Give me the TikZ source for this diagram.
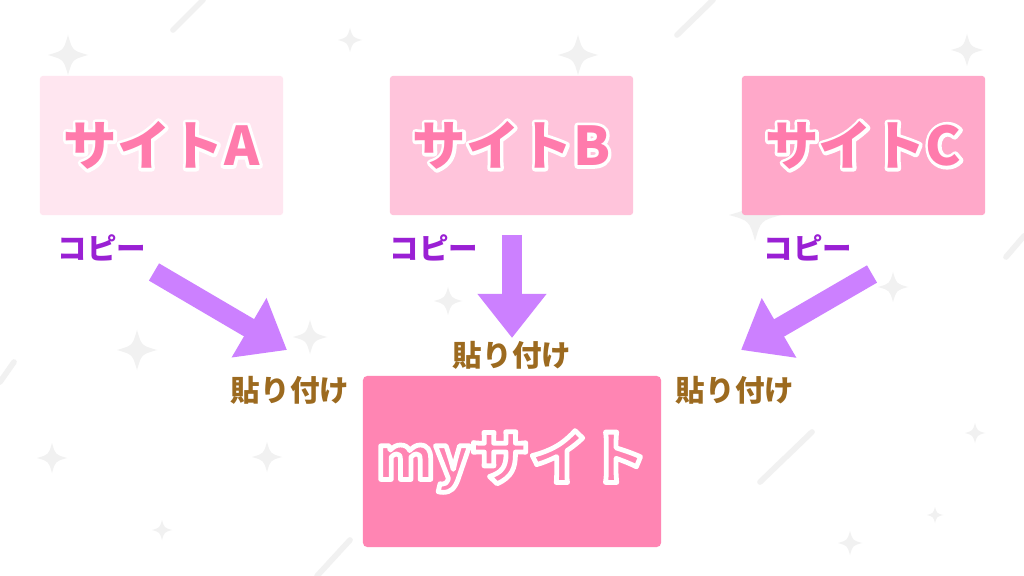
\documentclass[tikz,border=0pt]{standalone}
\usepackage{fontspec}
\usepackage{xcolor}
\usepackage{tikz}
\usetikzlibrary{arrows.meta,positioning}
\newfontfamily\jpfont{Noto Sans CJK JP}

\definecolor{boxA}{HTML}{FFE6F0}
\definecolor{boxB}{HTML}{FFC4DB}
\definecolor{boxC}{HTML}{FFA8C9}
\definecolor{boxMy}{HTML}{FF85B3}
\definecolor{sitetext}{HTML}{FF7BAC}
\definecolor{copycol}{HTML}{9A20D4}
\definecolor{pastecol}{HTML}{9C6A1F}
\definecolor{arrowcol}{HTML}{CC80FF}
\definecolor{sparklecol}{HTML}{F1F1F1}

\tikzset{
  sitebox/.style={rectangle, rounded corners=2pt, inner sep=0pt,
    minimum width=6.075cm, minimum height=3.475cm},
  mybox/.style={rectangle, rounded corners=3pt, inner sep=0pt, fill=boxMy,
    minimum width=7.45cm, minimum height=4.275cm},
  sitelabel/.style={text=sitetext, font=\jpfont\bfseries\fontsize{38}{38}\selectfont},
  mylabel/.style={text=white, font=\jpfont\bfseries\fontsize{42}{42}\selectfont},
  copylabel/.style={text=copycol, font=\jpfont\bfseries\fontsize{21}{21}\selectfont},
  pastelabel/.style={text=pastecol, font=\jpfont\bfseries\fontsize{21}{21}\selectfont},
  fat arrow/.style={draw=arrowcol, line width=0.5cm,
    -{Triangle[width=1.65cm,length=1.1cm]}},
  sparkle/.style={fill=sparklecol},
  sparkle line/.style={draw=sparklecol, line width=4pt, line cap=round}
}

% white stroked text (render mode 1) to sit under the filled text
\newcommand{\outlined}[2]{\special{pdf:literal direct 1 Tr 1 j #1 w 1 1 1 RG}#2\special{pdf:literal direct 0 Tr 0 j 0.4 w}}

\begin{document}
\begin{tikzpicture}[x=0.025cm, y=-0.025cm]
\useasboundingbox[fill=white] (0,0) rectangle (1024,576);

% background sparkles
\foreach \sx/\sy/\sr in {68/55/20, 350/40/12, 578/55/20, 967/50/16, 755/215/26,
    137/350/20, 310/337/17, 448/301/14, 893/287/15, 52/458/15, 267/457/15,
    162/530/10, 975/433/10, 935/515/8, 850/543/12}
  \fill[sparkle] (\sx,\sy-\sr) .. controls (\sx+0.22*\sr,\sy-0.22*\sr) .. (\sx+\sr,\sy)
    .. controls (\sx+0.22*\sr,\sy+0.22*\sr) .. (\sx,\sy+\sr)
    .. controls (\sx-0.22*\sr,\sy+0.22*\sr) .. (\sx-\sr,\sy)
    .. controls (\sx-0.22*\sr,\sy-0.22*\sr) .. cycle;
\draw[sparkle line] (173,30) -- (203,0);
\draw[sparkle line] (677,35) -- (713,0);
\draw[sparkle line] (317,576) -- (350,540);
\draw[sparkle line] (760,482) -- (812,432);
\draw[sparkle line] (1006,257) -- (1024,236);
\draw[sparkle line] (0,382) -- (14,362);

% source sites
\node[sitebox, fill=boxA] (siteA) at (161.5,145.5) {};
\node[sitebox, fill=boxB] (siteB) at (511.5,145.5) {};
\node[sitebox, fill=boxC] (siteC) at (863.5,145.5) {};
\node[sitelabel] (rimA) at (siteA) {\outlined{4.6}{サイトA}};
\node[sitelabel] (rimB) at (siteB) {\outlined{4.6}{サイトB}};
\node[sitelabel] (rimC) at (siteC) {\outlined{4.6}{サイトC}};
\node[sitelabel] (nameA) at (siteA) {サイトA};
\node[sitelabel] (nameB) at (siteB) {サイトB};
\node[sitelabel] (nameC) at (siteC) {サイトC};

% target site
\node[mybox] (mysite) at (512,461.5) {};
\node[mylabel] (myname) at (mysite) {\outlined{3.4}{myサイト}};

% labels
\node[copylabel] (copyA) at (102,248) {コピー};
\node[copylabel] (copyB) at (434,248) {コピー};
\node[copylabel] (copyC) at (808,248) {コピー};
\node[pastelabel] (pasteA) at (290,390) {貼り付け};
\node[pastelabel] (pasteB) at (512,355) {貼り付け};
\node[pastelabel] (pasteC) at (735,390) {貼り付け};

% arrows
\coordinate (tailA) at (154,272);
\coordinate (tipA) at (287,350);
\coordinate (tailB) at (512,235);
\coordinate (tipB) at (512,338);
\coordinate (tailC) at (872,274);
\coordinate (tipC) at (741,350);
\draw[fat arrow] (tailA) -- (tipA);
\draw[fat arrow] (tailB) -- (tipB);
\draw[fat arrow] (tailC) -- (tipC);

\end{tikzpicture}
\end{document}
